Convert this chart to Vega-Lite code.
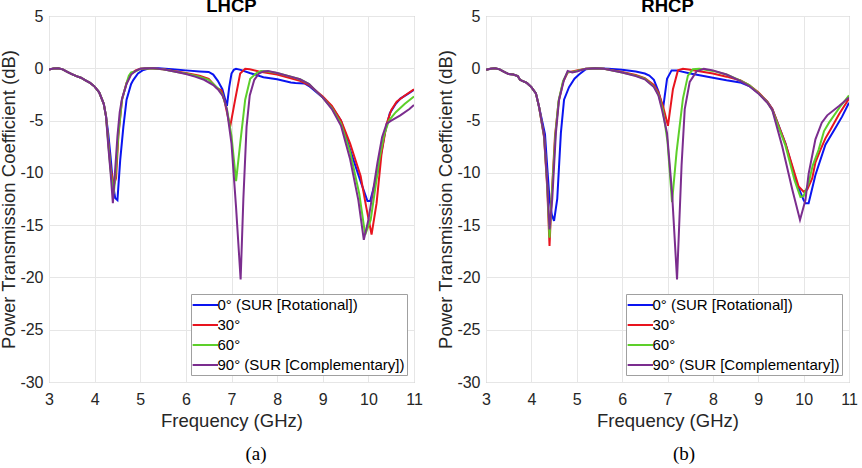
{
"$schema":"https://vega.github.io/schema/vega-lite/v6.json",
"background":"white",
"padding":{"left":-1,"top":-4,"right":0,"bottom":0},
"spacing":13,
"config":{
 "font":"Liberation Sans",
 "view":{"stroke":"#a8a8a8","strokeWidth":1},
 "axis":{"grid":true,"gridColor":"#e6e6e6","gridWidth":1,"ticks":false,"domain":false,"labelFont":"Liberation Sans","labelFontSize":16,"labelColor":"#262626","titleFont":"Liberation Sans","titleFontSize":18.5,"titleFontWeight":"normal","titleColor":"#262626","labelFlush":false},
 "axisX":{"labelPadding":9,"titlePadding":4},
 "axisY":{"labelPadding":6,"titlePadding":1}
},
"datasets":{
"names":[{"a":0,"name":"0° (SUR [Rotational])"},{"a":30,"name":"30°"},{"a":60,"name":"60°"},{"a":90,"name":"90° (SUR [Complementary])"}],
"curves":[
{"p":"L","a":0,"f":3,"v":-0.12},{"p":"L","a":0,"f":3.1,"v":-0.03},{"p":"L","a":0,"f":3.2,"v":0},{"p":"L","a":0,"f":3.3,"v":-0.1},{"p":"L","a":0,"f":3.4,"v":-0.35},{"p":"L","a":0,"f":3.5,"v":-0.55},{"p":"L","a":0,"f":3.6,"v":-0.75},{"p":"L","a":0,"f":3.7,"v":-0.9},{"p":"L","a":0,"f":3.8,"v":-1.15},{"p":"L","a":0,"f":3.9,"v":-1.4},{"p":"L","a":0,"f":4.0,"v":-1.75},{"p":"L","a":0,"f":4.1,"v":-2.3},{"p":"L","a":0,"f":4.2,"v":-3.4},{"p":"L","a":0,"f":4.25,"v":-4.6},
{"p":"L","a":0,"f":4.3,"v":-6.3},{"p":"L","a":0,"f":4.35,"v":-8.5},{"p":"L","a":0,"f":4.4,"v":-11},{"p":"L","a":0,"f":4.45,"v":-12.4},{"p":"L","a":0,"f":4.5,"v":-12.6},{"p":"L","a":0,"f":4.56,"v":-8.8},{"p":"L","a":0,"f":4.63,"v":-5.6},{"p":"L","a":0,"f":4.7,"v":-3.0},{"p":"L","a":0,"f":4.8,"v":-1.5},{"p":"L","a":0,"f":4.85,"v":-1.1},{"p":"L","a":0,"f":4.95,"v":-0.5},{"p":"L","a":0,"f":5.05,"v":-0.2},{"p":"L","a":0,"f":5.2,"v":0},{"p":"L","a":0,"f":5.4,"v":0},{"p":"L","a":0,"f":5.7,"v":-0.1},{"p":"L","a":0,"f":6.0,"v":-0.2},{"p":"L","a":0,"f":6.3,"v":-0.3},{"p":"L","a":0,"f":6.5,"v":-0.35},{"p":"L","a":0,"f":6.6,"v":-0.6},{"p":"L","a":0,"f":6.7,"v":-1.2},{"p":"L","a":0,"f":6.8,"v":-2.0},{"p":"L","a":0,"f":6.9,"v":-3.6},{"p":"L","a":0,"f":6.95,"v":-1.8},{"p":"L","a":0,"f":7.0,"v":-0.5},{"p":"L","a":0,"f":7.05,"v":-0.15},{"p":"L","a":0,"f":7.1,"v":-0.05},{"p":"L","a":0,"f":7.2,"v":-0.15},{"p":"L","a":0,"f":7.4,"v":-0.45},{"p":"L","a":0,"f":7.7,"v":-0.85},{"p":"L","a":0,"f":8.0,"v":-1.05},{"p":"L","a":0,"f":8.3,"v":-1.35},{"p":"L","a":0,"f":8.4,"v":-1.4},{"p":"L","a":0,"f":8.6,"v":-1.45},{"p":"L","a":0,"f":8.7,"v":-1.7},{"p":"L","a":0,"f":9.0,"v":-2.8},{"p":"L","a":0,"f":9.2,"v":-3.7},{"p":"L","a":0,"f":9.4,"v":-5.0},{"p":"L","a":0,"f":9.6,"v":-7.8},{"p":"L","a":0,"f":9.82,"v":-10.7},{"p":"L","a":0,"f":9.98,"v":-12.7},{"p":"L","a":0,"f":10.04,"v":-12.7},{"p":"L","a":0,"f":10.22,"v":-9.7},{"p":"L","a":0,"f":10.36,"v":-6.2},{"p":"L","a":0,"f":10.47,"v":-4.3},{"p":"L","a":0,"f":10.6,"v":-3.4},{"p":"L","a":0,"f":10.7,"v":-2.9},{"p":"L","a":0,"f":10.85,"v":-2.5},{"p":"L","a":0,"f":11,"v":-2.05},
{"p":"L","a":30,"f":3,"v":-0.12},{"p":"L","a":30,"f":3.1,"v":-0.03},{"p":"L","a":30,"f":3.2,"v":0},{"p":"L","a":30,"f":3.3,"v":-0.1},{"p":"L","a":30,"f":3.4,"v":-0.35},{"p":"L","a":30,"f":3.5,"v":-0.55},{"p":"L","a":30,"f":3.6,"v":-0.75},{"p":"L","a":30,"f":3.7,"v":-0.9},{"p":"L","a":30,"f":3.8,"v":-1.15},{"p":"L","a":30,"f":3.9,"v":-1.4},{"p":"L","a":30,"f":4.0,"v":-1.75},{"p":"L","a":30,"f":4.1,"v":-2.3},{"p":"L","a":30,"f":4.2,"v":-3.4},{"p":"L","a":30,"f":4.25,"v":-4.6},
{"p":"L","a":30,"f":4.3,"v":-7.0},{"p":"L","a":30,"f":4.35,"v":-9.5},{"p":"L","a":30,"f":4.42,"v":-11.2},{"p":"L","a":30,"f":4.47,"v":-10.5},{"p":"L","a":30,"f":4.52,"v":-6.5},{"p":"L","a":30,"f":4.6,"v":-3.0},{"p":"L","a":30,"f":4.7,"v":-1.4},{"p":"L","a":30,"f":4.8,"v":-0.5},{"p":"L","a":30,"f":4.9,"v":-0.2},{"p":"L","a":30,"f":5.0,"v":-0.05},{"p":"L","a":30,"f":5.2,"v":0},{"p":"L","a":30,"f":5.5,"v":-0.1},{"p":"L","a":30,"f":5.8,"v":-0.3},{"p":"L","a":30,"f":6.0,"v":-0.45},{"p":"L","a":30,"f":6.3,"v":-0.7},{"p":"L","a":30,"f":6.5,"v":-1.0},{"p":"L","a":30,"f":6.6,"v":-1.5},{"p":"L","a":30,"f":6.68,"v":-1.9},{"p":"L","a":30,"f":6.78,"v":-2.1},{"p":"L","a":30,"f":6.85,"v":-3.2},{"p":"L","a":30,"f":6.97,"v":-5.6},{"p":"L","a":30,"f":7.08,"v":-3.0},{"p":"L","a":30,"f":7.19,"v":-0.5},{"p":"L","a":30,"f":7.3,"v":-0.05},{"p":"L","a":30,"f":7.4,"v":-0.1},{"p":"L","a":30,"f":7.6,"v":-0.3},{"p":"L","a":30,"f":8.0,"v":-0.6},{"p":"L","a":30,"f":8.3,"v":-0.95},{"p":"L","a":30,"f":8.5,"v":-1.2},{"p":"L","a":30,"f":8.7,"v":-1.6},{"p":"L","a":30,"f":9.0,"v":-2.7},{"p":"L","a":30,"f":9.2,"v":-3.6},{"p":"L","a":30,"f":9.4,"v":-5.0},{"p":"L","a":30,"f":9.6,"v":-7.2},{"p":"L","a":30,"f":9.83,"v":-10.3},{"p":"L","a":30,"f":9.95,"v":-13.2},{"p":"L","a":30,"f":10.07,"v":-15.9},{"p":"L","a":30,"f":10.18,"v":-12.9},{"p":"L","a":30,"f":10.29,"v":-8.1},{"p":"L","a":30,"f":10.4,"v":-5.3},{"p":"L","a":30,"f":10.5,"v":-4.0},{"p":"L","a":30,"f":10.62,"v":-3.2},{"p":"L","a":30,"f":10.8,"v":-2.6},{"p":"L","a":30,"f":11,"v":-2.0},
{"p":"L","a":60,"f":3,"v":-0.12},{"p":"L","a":60,"f":3.1,"v":-0.03},{"p":"L","a":60,"f":3.2,"v":0},{"p":"L","a":60,"f":3.3,"v":-0.1},{"p":"L","a":60,"f":3.4,"v":-0.35},{"p":"L","a":60,"f":3.5,"v":-0.55},{"p":"L","a":60,"f":3.6,"v":-0.75},{"p":"L","a":60,"f":3.7,"v":-0.9},{"p":"L","a":60,"f":3.8,"v":-1.15},{"p":"L","a":60,"f":3.9,"v":-1.4},{"p":"L","a":60,"f":4.0,"v":-1.75},{"p":"L","a":60,"f":4.1,"v":-2.3},{"p":"L","a":60,"f":4.2,"v":-3.4},{"p":"L","a":60,"f":4.25,"v":-4.6},
{"p":"L","a":60,"f":4.3,"v":-7.2},{"p":"L","a":60,"f":4.35,"v":-9.8},{"p":"L","a":60,"f":4.42,"v":-12.0},{"p":"L","a":60,"f":4.47,"v":-9.5},{"p":"L","a":60,"f":4.52,"v":-6.3},{"p":"L","a":60,"f":4.6,"v":-3.0},{"p":"L","a":60,"f":4.7,"v":-1.4},{"p":"L","a":60,"f":4.75,"v":-0.7},{"p":"L","a":60,"f":4.8,"v":-0.4},{"p":"L","a":60,"f":4.9,"v":-0.3},{"p":"L","a":60,"f":5.0,"v":-0.05},{"p":"L","a":60,"f":5.2,"v":0},{"p":"L","a":60,"f":5.5,"v":-0.1},{"p":"L","a":60,"f":5.8,"v":-0.35},{"p":"L","a":60,"f":6.0,"v":-0.5},{"p":"L","a":60,"f":6.3,"v":-0.8},{"p":"L","a":60,"f":6.5,"v":-1.1},{"p":"L","a":60,"f":6.6,"v":-1.5},{"p":"L","a":60,"f":6.7,"v":-1.9},{"p":"L","a":60,"f":6.8,"v":-2.5},{"p":"L","a":60,"f":6.9,"v":-3.9},{"p":"L","a":60,"f":7.0,"v":-6.5},{"p":"L","a":60,"f":7.1,"v":-10.8},{"p":"L","a":60,"f":7.19,"v":-7.2},{"p":"L","a":60,"f":7.3,"v":-3.0},{"p":"L","a":60,"f":7.41,"v":-1.0},{"p":"L","a":60,"f":7.55,"v":-0.45},{"p":"L","a":60,"f":7.65,"v":-0.25},{"p":"L","a":60,"f":7.8,"v":-0.3},{"p":"L","a":60,"f":8.0,"v":-0.45},{"p":"L","a":60,"f":8.3,"v":-0.8},{"p":"L","a":60,"f":8.5,"v":-1.05},{"p":"L","a":60,"f":8.7,"v":-1.5},{"p":"L","a":60,"f":9.0,"v":-2.8},{"p":"L","a":60,"f":9.2,"v":-3.8},{"p":"L","a":60,"f":9.4,"v":-5.3},{"p":"L","a":60,"f":9.6,"v":-8.0},{"p":"L","a":60,"f":9.8,"v":-12.0},{"p":"L","a":60,"f":9.93,"v":-15.9},{"p":"L","a":60,"f":10.05,"v":-14.5},{"p":"L","a":60,"f":10.15,"v":-11.5},{"p":"L","a":60,"f":10.25,"v":-8.5},{"p":"L","a":60,"f":10.35,"v":-6.3},{"p":"L","a":60,"f":10.45,"v":-5.0},{"p":"L","a":60,"f":10.6,"v":-4.2},{"p":"L","a":60,"f":10.8,"v":-3.4},{"p":"L","a":60,"f":11,"v":-2.7},
{"p":"L","a":90,"f":3,"v":-0.12},{"p":"L","a":90,"f":3.1,"v":-0.03},{"p":"L","a":90,"f":3.2,"v":0},{"p":"L","a":90,"f":3.3,"v":-0.1},{"p":"L","a":90,"f":3.4,"v":-0.35},{"p":"L","a":90,"f":3.5,"v":-0.55},{"p":"L","a":90,"f":3.6,"v":-0.75},{"p":"L","a":90,"f":3.7,"v":-0.9},{"p":"L","a":90,"f":3.8,"v":-1.15},{"p":"L","a":90,"f":3.9,"v":-1.4},{"p":"L","a":90,"f":4.0,"v":-1.75},{"p":"L","a":90,"f":4.1,"v":-2.3},{"p":"L","a":90,"f":4.2,"v":-3.4},{"p":"L","a":90,"f":4.25,"v":-4.6},
{"p":"L","a":90,"f":4.3,"v":-7.5},{"p":"L","a":90,"f":4.35,"v":-10.0},{"p":"L","a":90,"f":4.4,"v":-12.9},{"p":"L","a":90,"f":4.45,"v":-9.7},{"p":"L","a":90,"f":4.5,"v":-6.5},{"p":"L","a":90,"f":4.55,"v":-4.2},{"p":"L","a":90,"f":4.6,"v":-2.9},{"p":"L","a":90,"f":4.7,"v":-1.5},{"p":"L","a":90,"f":4.8,"v":-0.6},{"p":"L","a":90,"f":4.9,"v":-0.25},{"p":"L","a":90,"f":5.0,"v":-0.05},{"p":"L","a":90,"f":5.1,"v":0},{"p":"L","a":90,"f":5.3,"v":0},{"p":"L","a":90,"f":5.5,"v":-0.1},{"p":"L","a":90,"f":5.8,"v":-0.35},{"p":"L","a":90,"f":6.0,"v":-0.55},{"p":"L","a":90,"f":6.2,"v":-0.8},{"p":"L","a":90,"f":6.4,"v":-1.1},{"p":"L","a":90,"f":6.6,"v":-1.6},{"p":"L","a":90,"f":6.7,"v":-2.0},{"p":"L","a":90,"f":6.8,"v":-2.6},{"p":"L","a":90,"f":6.85,"v":-3.1},{"p":"L","a":90,"f":6.9,"v":-4.0},{"p":"L","a":90,"f":7.0,"v":-7.2},{"p":"L","a":90,"f":7.1,"v":-13.3},{"p":"L","a":90,"f":7.2,"v":-20.2},{"p":"L","a":90,"f":7.26,"v":-12.5},{"p":"L","a":90,"f":7.33,"v":-5.6},{"p":"L","a":90,"f":7.4,"v":-2.6},{"p":"L","a":90,"f":7.5,"v":-1.1},{"p":"L","a":90,"f":7.6,"v":-0.5},{"p":"L","a":90,"f":7.7,"v":-0.3},{"p":"L","a":90,"f":7.8,"v":-0.25},{"p":"L","a":90,"f":8.0,"v":-0.45},{"p":"L","a":90,"f":8.3,"v":-0.8},{"p":"L","a":90,"f":8.5,"v":-1.05},{"p":"L","a":90,"f":8.7,"v":-1.5},{"p":"L","a":90,"f":9.0,"v":-2.8},{"p":"L","a":90,"f":9.2,"v":-3.9},{"p":"L","a":90,"f":9.4,"v":-5.5},{"p":"L","a":90,"f":9.6,"v":-8.7},{"p":"L","a":90,"f":9.78,"v":-12.6},{"p":"L","a":90,"f":9.9,"v":-16.4},{"p":"L","a":90,"f":10.0,"v":-14.5},{"p":"L","a":90,"f":10.1,"v":-11.8},{"p":"L","a":90,"f":10.2,"v":-9.0},{"p":"L","a":90,"f":10.3,"v":-6.6},{"p":"L","a":90,"f":10.4,"v":-5.3},{"p":"L","a":90,"f":10.5,"v":-5.0},{"p":"L","a":90,"f":10.7,"v":-4.5},{"p":"L","a":90,"f":10.9,"v":-3.9},{"p":"L","a":90,"f":11,"v":-3.5},
{"p":"R","a":0,"f":3,"v":-0.15},{"p":"R","a":0,"f":3.1,"v":-0.05},{"p":"R","a":0,"f":3.2,"v":0},{"p":"R","a":0,"f":3.3,"v":-0.1},{"p":"R","a":0,"f":3.4,"v":-0.35},{"p":"R","a":0,"f":3.5,"v":-0.55},{"p":"R","a":0,"f":3.6,"v":-0.6},{"p":"R","a":0,"f":3.7,"v":-0.75},{"p":"R","a":0,"f":3.75,"v":-1.1},{"p":"R","a":0,"f":3.8,"v":-1.2},{"p":"R","a":0,"f":3.9,"v":-1.4},{"p":"R","a":0,"f":4.0,"v":-1.8},{"p":"R","a":0,"f":4.1,"v":-2.4},{"p":"R","a":0,"f":4.17,"v":-3.7},
{"p":"R","a":0,"f":4.3,"v":-6.3},{"p":"R","a":0,"f":4.35,"v":-9.5},{"p":"R","a":0,"f":4.4,"v":-12.5},{"p":"R","a":0,"f":4.45,"v":-14.0},{"p":"R","a":0,"f":4.5,"v":-14.6},{"p":"R","a":0,"f":4.57,"v":-12.5},{"p":"R","a":0,"f":4.65,"v":-6.2},{"p":"R","a":0,"f":4.72,"v":-3.0},{"p":"R","a":0,"f":4.83,"v":-1.8},{"p":"R","a":0,"f":4.95,"v":-1.0},{"p":"R","a":0,"f":5.05,"v":-0.6},{"p":"R","a":0,"f":5.2,"v":-0.1},{"p":"R","a":0,"f":5.4,"v":0},{"p":"R","a":0,"f":5.7,"v":-0.05},{"p":"R","a":0,"f":6.0,"v":-0.15},{"p":"R","a":0,"f":6.3,"v":-0.3},{"p":"R","a":0,"f":6.5,"v":-0.5},{"p":"R","a":0,"f":6.6,"v":-0.7},{"p":"R","a":0,"f":6.7,"v":-1.1},{"p":"R","a":0,"f":6.8,"v":-2.2},{"p":"R","a":0,"f":6.9,"v":-3.9},{"p":"R","a":0,"f":6.99,"v":-1.0},{"p":"R","a":0,"f":7.09,"v":-0.2},{"p":"R","a":0,"f":7.2,"v":-0.2},{"p":"R","a":0,"f":7.5,"v":-0.5},{"p":"R","a":0,"f":8.0,"v":-0.9},{"p":"R","a":0,"f":8.3,"v":-1.15},{"p":"R","a":0,"f":8.6,"v":-1.35},{"p":"R","a":0,"f":8.8,"v":-1.7},{"p":"R","a":0,"f":9.0,"v":-2.35},{"p":"R","a":0,"f":9.2,"v":-3.2},{"p":"R","a":0,"f":9.31,"v":-3.9},{"p":"R","a":0,"f":9.6,"v":-7.2},{"p":"R","a":0,"f":9.85,"v":-11.0},{"p":"R","a":0,"f":10.0,"v":-12.6},{"p":"R","a":0,"f":10.04,"v":-12.9},{"p":"R","a":0,"f":10.11,"v":-12.9},{"p":"R","a":0,"f":10.26,"v":-10.2},{"p":"R","a":0,"f":10.48,"v":-7.3},{"p":"R","a":0,"f":10.7,"v":-5.7},{"p":"R","a":0,"f":10.85,"v":-4.6},{"p":"R","a":0,"f":11,"v":-3.3},
{"p":"R","a":30,"f":3,"v":-0.15},{"p":"R","a":30,"f":3.1,"v":-0.05},{"p":"R","a":30,"f":3.2,"v":0},{"p":"R","a":30,"f":3.3,"v":-0.1},{"p":"R","a":30,"f":3.4,"v":-0.35},{"p":"R","a":30,"f":3.5,"v":-0.55},{"p":"R","a":30,"f":3.6,"v":-0.6},{"p":"R","a":30,"f":3.7,"v":-0.75},{"p":"R","a":30,"f":3.75,"v":-1.1},{"p":"R","a":30,"f":3.8,"v":-1.2},{"p":"R","a":30,"f":3.9,"v":-1.4},{"p":"R","a":30,"f":4.0,"v":-1.8},{"p":"R","a":30,"f":4.1,"v":-2.4},{"p":"R","a":30,"f":4.17,"v":-3.7},
{"p":"R","a":30,"f":4.28,"v":-6.6},{"p":"R","a":30,"f":4.35,"v":-11.5},{"p":"R","a":30,"f":4.4,"v":-17.0},{"p":"R","a":30,"f":4.45,"v":-12.0},{"p":"R","a":30,"f":4.52,"v":-6.5},{"p":"R","a":30,"f":4.6,"v":-3.2},{"p":"R","a":30,"f":4.7,"v":-1.3},{"p":"R","a":30,"f":4.8,"v":-0.4},{"p":"R","a":30,"f":4.9,"v":-0.3},{"p":"R","a":30,"f":5.0,"v":-0.2},{"p":"R","a":30,"f":5.2,"v":-0.05},{"p":"R","a":30,"f":5.4,"v":0},{"p":"R","a":30,"f":5.6,"v":-0.05},{"p":"R","a":30,"f":6.0,"v":-0.35},{"p":"R","a":30,"f":6.3,"v":-0.65},{"p":"R","a":30,"f":6.5,"v":-0.95},{"p":"R","a":30,"f":6.7,"v":-1.6},{"p":"R","a":30,"f":6.8,"v":-2.3},{"p":"R","a":30,"f":6.9,"v":-3.6},{"p":"R","a":30,"f":7.01,"v":-5.5},{"p":"R","a":30,"f":7.12,"v":-2.0},{"p":"R","a":30,"f":7.23,"v":-0.2},{"p":"R","a":30,"f":7.34,"v":-0.05},{"p":"R","a":30,"f":7.5,"v":-0.15},{"p":"R","a":30,"f":8.0,"v":-0.5},{"p":"R","a":30,"f":8.3,"v":-0.8},{"p":"R","a":30,"f":8.6,"v":-1.15},{"p":"R","a":30,"f":8.8,"v":-1.6},{"p":"R","a":30,"f":9.0,"v":-2.3},{"p":"R","a":30,"f":9.2,"v":-3.2},{"p":"R","a":30,"f":9.31,"v":-3.9},{"p":"R","a":30,"f":9.6,"v":-7.2},{"p":"R","a":30,"f":9.89,"v":-11.3},{"p":"R","a":30,"f":10.0,"v":-11.8},{"p":"R","a":30,"f":10.08,"v":-11.6},{"p":"R","a":30,"f":10.19,"v":-10.5},{"p":"R","a":30,"f":10.26,"v":-9.0},{"p":"R","a":30,"f":10.37,"v":-7.8},{"p":"R","a":30,"f":10.48,"v":-6.7},{"p":"R","a":30,"f":10.6,"v":-5.8},{"p":"R","a":30,"f":10.78,"v":-4.4},{"p":"R","a":30,"f":11,"v":-2.9},
{"p":"R","a":60,"f":3,"v":-0.15},{"p":"R","a":60,"f":3.1,"v":-0.05},{"p":"R","a":60,"f":3.2,"v":0},{"p":"R","a":60,"f":3.3,"v":-0.1},{"p":"R","a":60,"f":3.4,"v":-0.35},{"p":"R","a":60,"f":3.5,"v":-0.55},{"p":"R","a":60,"f":3.6,"v":-0.6},{"p":"R","a":60,"f":3.7,"v":-0.75},{"p":"R","a":60,"f":3.75,"v":-1.1},{"p":"R","a":60,"f":3.8,"v":-1.2},{"p":"R","a":60,"f":3.9,"v":-1.4},{"p":"R","a":60,"f":4.0,"v":-1.8},{"p":"R","a":60,"f":4.1,"v":-2.4},{"p":"R","a":60,"f":4.17,"v":-3.7},
{"p":"R","a":60,"f":4.28,"v":-6.5},{"p":"R","a":60,"f":4.35,"v":-11.2},{"p":"R","a":60,"f":4.4,"v":-16.2},{"p":"R","a":60,"f":4.45,"v":-12.2},{"p":"R","a":60,"f":4.53,"v":-6.3},{"p":"R","a":60,"f":4.6,"v":-3.1},{"p":"R","a":60,"f":4.7,"v":-1.2},{"p":"R","a":60,"f":4.8,"v":-0.35},{"p":"R","a":60,"f":4.9,"v":-0.35},{"p":"R","a":60,"f":5.0,"v":-0.25},{"p":"R","a":60,"f":5.2,"v":-0.05},{"p":"R","a":60,"f":5.4,"v":0},{"p":"R","a":60,"f":5.6,"v":-0.05},{"p":"R","a":60,"f":6.0,"v":-0.4},{"p":"R","a":60,"f":6.3,"v":-0.7},{"p":"R","a":60,"f":6.5,"v":-1.0},{"p":"R","a":60,"f":6.7,"v":-1.75},{"p":"R","a":60,"f":6.8,"v":-2.5},{"p":"R","a":60,"f":6.9,"v":-4.0},{"p":"R","a":60,"f":7.0,"v":-7.0},{"p":"R","a":60,"f":7.1,"v":-12.8},{"p":"R","a":60,"f":7.2,"v":-8.0},{"p":"R","a":60,"f":7.34,"v":-2.9},{"p":"R","a":60,"f":7.45,"v":-0.7},{"p":"R","a":60,"f":7.56,"v":-0.1},{"p":"R","a":60,"f":7.7,"v":-0.05},{"p":"R","a":60,"f":8.0,"v":-0.25},{"p":"R","a":60,"f":8.3,"v":-0.6},{"p":"R","a":60,"f":8.6,"v":-1.15},{"p":"R","a":60,"f":8.8,"v":-1.6},{"p":"R","a":60,"f":9.0,"v":-2.35},{"p":"R","a":60,"f":9.2,"v":-3.25},{"p":"R","a":60,"f":9.31,"v":-4.0},{"p":"R","a":60,"f":9.6,"v":-7.4},{"p":"R","a":60,"f":9.8,"v":-10.7},{"p":"R","a":60,"f":9.93,"v":-12.3},{"p":"R","a":60,"f":10.0,"v":-12.2},{"p":"R","a":60,"f":10.11,"v":-11.0},{"p":"R","a":60,"f":10.2,"v":-9.3},{"p":"R","a":60,"f":10.33,"v":-7.8},{"p":"R","a":60,"f":10.45,"v":-6.0},{"p":"R","a":60,"f":10.56,"v":-5.2},{"p":"R","a":60,"f":10.8,"v":-3.7},{"p":"R","a":60,"f":11,"v":-2.6},
{"p":"R","a":90,"f":3,"v":-0.15},{"p":"R","a":90,"f":3.1,"v":-0.05},{"p":"R","a":90,"f":3.2,"v":0},{"p":"R","a":90,"f":3.3,"v":-0.1},{"p":"R","a":90,"f":3.4,"v":-0.35},{"p":"R","a":90,"f":3.5,"v":-0.55},{"p":"R","a":90,"f":3.6,"v":-0.6},{"p":"R","a":90,"f":3.7,"v":-0.75},{"p":"R","a":90,"f":3.75,"v":-1.1},{"p":"R","a":90,"f":3.8,"v":-1.2},{"p":"R","a":90,"f":3.9,"v":-1.4},{"p":"R","a":90,"f":4.0,"v":-1.8},{"p":"R","a":90,"f":4.1,"v":-2.4},{"p":"R","a":90,"f":4.17,"v":-3.7},
{"p":"R","a":90,"f":4.28,"v":-6.4},{"p":"R","a":90,"f":4.35,"v":-11.0},{"p":"R","a":90,"f":4.4,"v":-15.4},{"p":"R","a":90,"f":4.46,"v":-12.5},{"p":"R","a":90,"f":4.54,"v":-6.2},{"p":"R","a":90,"f":4.61,"v":-3.0},{"p":"R","a":90,"f":4.72,"v":-1.1},{"p":"R","a":90,"f":4.8,"v":-0.25},{"p":"R","a":90,"f":4.9,"v":-0.4},{"p":"R","a":90,"f":5.0,"v":-0.3},{"p":"R","a":90,"f":5.2,"v":-0.05},{"p":"R","a":90,"f":5.4,"v":0},{"p":"R","a":90,"f":5.6,"v":-0.05},{"p":"R","a":90,"f":6.0,"v":-0.4},{"p":"R","a":90,"f":6.3,"v":-0.75},{"p":"R","a":90,"f":6.5,"v":-1.05},{"p":"R","a":90,"f":6.7,"v":-1.8},{"p":"R","a":90,"f":6.8,"v":-2.6},{"p":"R","a":90,"f":6.88,"v":-4.0},{"p":"R","a":90,"f":6.99,"v":-6.2},{"p":"R","a":90,"f":7.1,"v":-11.9},{"p":"R","a":90,"f":7.21,"v":-20.2},{"p":"R","a":90,"f":7.31,"v":-9.3},{"p":"R","a":90,"f":7.38,"v":-3.9},{"p":"R","a":90,"f":7.49,"v":-1.3},{"p":"R","a":90,"f":7.64,"v":-0.3},{"p":"R","a":90,"f":7.8,"v":-0.05},{"p":"R","a":90,"f":8.0,"v":-0.2},{"p":"R","a":90,"f":8.3,"v":-0.6},{"p":"R","a":90,"f":8.6,"v":-1.2},{"p":"R","a":90,"f":8.8,"v":-1.7},{"p":"R","a":90,"f":9.0,"v":-2.4},{"p":"R","a":90,"f":9.2,"v":-3.3},{"p":"R","a":90,"f":9.31,"v":-4.0},{"p":"R","a":90,"f":9.53,"v":-7.5},{"p":"R","a":90,"f":9.75,"v":-11.6},{"p":"R","a":90,"f":9.92,"v":-14.5},{"p":"R","a":90,"f":10.04,"v":-12.6},{"p":"R","a":90,"f":10.11,"v":-10.1},{"p":"R","a":90,"f":10.26,"v":-6.8},{"p":"R","a":90,"f":10.4,"v":-5.2},{"p":"R","a":90,"f":10.52,"v":-4.5},{"p":"R","a":90,"f":10.78,"v":-3.6},{"p":"R","a":90,"f":11,"v":-2.8}
]},
"data":{"name":"curves"},
"resolve":{"legend":{"color":"independent"}},
"hconcat":[
 {"resolve":{"legend":{"color":"independent"}},
  "title":{"text":"(a)","orient":"bottom","anchor":"middle","dx":45,"offset":15,"font":"Liberation Serif","fontSize":19,"fontWeight":"normal","color":"#000000"},
  "vconcat":[{
   "title":{"text":"LHCP","anchor":"middle","frame":"group","fontSize":18.5,"fontWeight":"bold","color":"#000000","offset":-7},
   "width":365,"height":366,
   "transform":[{"filter":"datum.p === 'L'"},{"lookup":"a","from":{"data":{"name":"names"},"key":"a","fields":["name"]}}],
   "mark":{"type":"line","strokeWidth":2,"clip":true},
   "encoding":{
    "x":{"field":"f","type":"quantitative","scale":{"domain":[3,11],"nice":false,"zero":false},"axis":{"values":[3,4,5,6,7,8,9,10,11],"title":"Frequency (GHz)","labelExpr":"'' + datum.value"}},
    "y":{"field":"v","type":"quantitative","scale":{"domain":[-30,5],"nice":false,"zero":false},"axis":{"values":[-30,-25,-20,-15,-10,-5,0,5],"title":"Power Transmission Coefficient (dB)","labelExpr":"'' + datum.value"}},
    "color":{"field":"name","type":"nominal","scale":{"domain":["0° (SUR [Rotational])","30°","60°","90° (SUR [Complementary])"],"range":["#0a14f0","#e8141e","#5dcf2a","#7b2d8e"]},
     "legend":{"title":null,"orient":"bottom-right","offset":7,"symbolType":"M-1.17,0H2","symbolSize":256,"symbolStrokeWidth":2,"labelFontSize":15,"labelFont":"Liberation Sans","labelColor":"#000000","strokeColor":"#a0a0a0","fillColor":"#ffffff","padding":2,"rowPadding":3,"labelOffset":6.5,"labelLimit":0}}
   }
  }]
 },
 {"resolve":{"legend":{"color":"independent"}},
  "title":{"text":"(b)","orient":"bottom","anchor":"middle","dx":37,"offset":15,"font":"Liberation Serif","fontSize":19,"fontWeight":"normal","color":"#000000"},
  "vconcat":[{
   "title":{"text":"RHCP","anchor":"middle","frame":"group","fontSize":18.5,"fontWeight":"bold","color":"#000000","offset":-7},
   "width":363,"height":366,
   "transform":[{"filter":"datum.p === 'R'"},{"lookup":"a","from":{"data":{"name":"names"},"key":"a","fields":["name"]}}],
   "mark":{"type":"line","strokeWidth":2,"clip":true},
   "encoding":{
    "x":{"field":"f","type":"quantitative","scale":{"domain":[3,11],"nice":false,"zero":false},"axis":{"values":[3,4,5,6,7,8,9,10,11],"title":"Frequency (GHz)","labelExpr":"'' + datum.value"}},
    "y":{"field":"v","type":"quantitative","scale":{"domain":[-30,5],"nice":false,"zero":false},"axis":{"values":[-30,-25,-20,-15,-10,-5,0,5],"title":"Power Transmission Coefficient (dB)","labelExpr":"'' + datum.value"}},
    "color":{"field":"name","type":"nominal","scale":{"domain":["0° (SUR [Rotational])","30°","60°","90° (SUR [Complementary])"],"range":["#0a14f0","#e8141e","#5dcf2a","#7b2d8e"]},
     "legend":{"title":null,"orient":"bottom-right","offset":7,"symbolType":"M-1.17,0H2","symbolSize":256,"symbolStrokeWidth":2,"labelFontSize":15,"labelFont":"Liberation Sans","labelColor":"#000000","strokeColor":"#a0a0a0","fillColor":"#ffffff","padding":2,"rowPadding":3,"labelOffset":6.5,"labelLimit":0}}
   }
  }]
 }
]
}
